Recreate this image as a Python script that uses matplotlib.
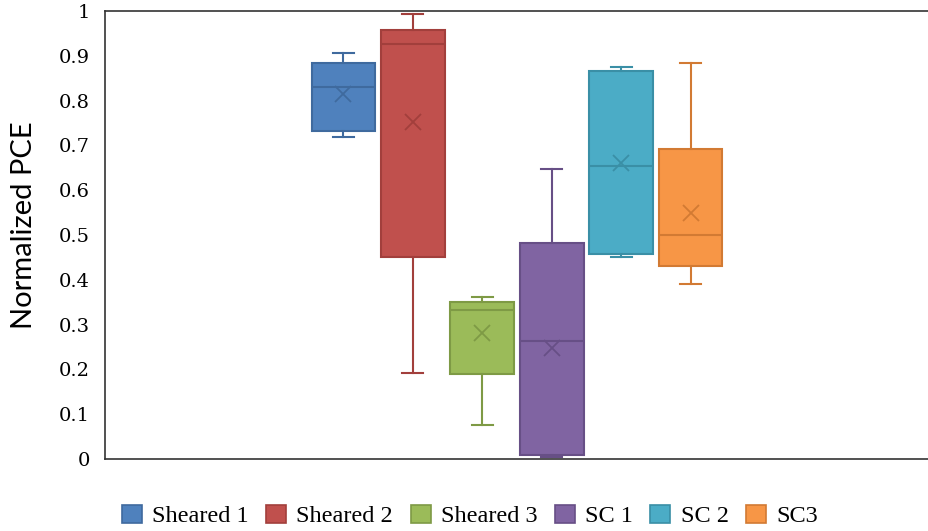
import matplotlib
matplotlib.use("Agg")
import matplotlib.pyplot as plt
from matplotlib.patches import Patch

# Box statistics per sample (normalized PCE)
groups = ["Sheared 1", "Sheared 2", "Sheared 3", "SC 1", "SC 2", "SC3"]
whisker_low = [0.718, 0.193, 0.077, 0.005, 0.450, 0.391]
q1 = [0.732, 0.452, 0.189, 0.010, 0.458, 0.430]
median = [0.831, 0.926, 0.332, 0.263, 0.654, 0.499]
q3 = [0.885, 0.958, 0.351, 0.482, 0.867, 0.693]
whisker_high = [0.906, 0.993, 0.361, 0.647, 0.876, 0.885]
mean = [0.815, 0.753, 0.281, 0.247, 0.661, 0.550]

face_colors = ["#4F81BD", "#C0504D", "#9BBB59", "#8064A2", "#4BACC6", "#F79646"]
edge_colors = ["#3F6A9E", "#A23F3C", "#7E9A45", "#674F86", "#3A8FA6", "#D27A33"]

yticks = [0, 0.1, 0.2, 0.3, 0.4, 0.5, 0.6, 0.7, 0.8, 0.9, 1]
ytick_labels = ["0", "0.1", "0.2", "0.3", "0.4", "0.5", "0.6", "0.7", "0.8", "0.9", "1"]

fig = plt.figure(figsize=(9.29, 5.31), dpi=100)
ax = fig.add_axes([105 / 929, 72 / 531, 824 / 929, 448 / 531])

for i, name in enumerate(groups):
    stats = [dict(label=name, whislo=whisker_low[i], q1=q1[i], med=median[i],
                  q3=q3[i], whishi=whisker_high[i], mean=mean[i], fliers=[])]
    ec = edge_colors[i]
    ax.bxp(stats, positions=[i], widths=0.92, patch_artist=True,
           showmeans=True, showfliers=False,
           boxprops=dict(facecolor=face_colors[i], edgecolor=ec, linewidth=1.5),
           medianprops=dict(color=ec, linewidth=1.5),
           whiskerprops=dict(color=ec, linewidth=1.5),
           capprops=dict(color=ec, linewidth=1.5),
           capwidths=0.3,
           meanprops=dict(marker="x", markersize=12, markeredgecolor=ec,
                          markeredgewidth=1.3))

ax.set_xlim(2.5 - 5.935, 2.5 + 5.935)
ax.set_ylim(0, 1)
ax.set_xticks([])
ax.set_yticks(yticks)
ax.set_yticklabels(ytick_labels, fontfamily="DejaVu Serif", fontsize=14)
ax.tick_params(axis="y", length=0, pad=11)
ax.spines["right"].set_visible(False)
for s in ["left", "top", "bottom"]:
    ax.spines[s].set_color("#333333")
    ax.spines[s].set_linewidth(1.2)

ax.set_ylabel("Normalized PCE", fontfamily="Lato", fontsize=21)
ax.yaxis.set_label_coords(-0.082, 0.522)

handles = [Patch(facecolor=face_colors[i], edgecolor=edge_colors[i], linewidth=1.2)
           for i in range(len(groups))]
fig.legend(handles, groups, loc="center", bbox_to_anchor=(470 / 929, 1 - 516 / 531),
           ncol=6, frameon=False, prop=dict(family="Liberation Serif", size=17.5),
           handlelength=0.82, handleheight=0.76, handletextpad=0.42,
           columnspacing=0.72, borderpad=0)

fig.savefig("out.png", dpi=100)
